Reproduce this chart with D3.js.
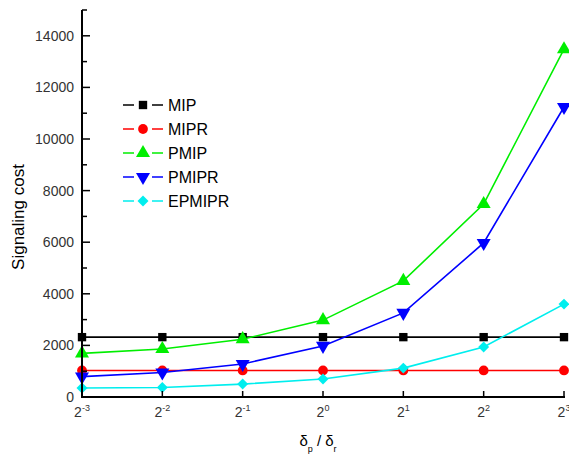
<!DOCTYPE html>
<html><head><meta charset="utf-8">
<script src="https://cdn.jsdelivr.net/npm/d3@7"></script>
<style>body{margin:0;background:#fff}svg{display:block}</style>
</head><body>
<script>
const exps = [-3, -2, -1, 0, 1, 2, 3];
const seriesNames = ["MIP", "MIPR", "PMIP", "PMIPR", "EPMIPR"];
const MIP    = [2320, 2320, 2320, 2320, 2320, 2320, 2320];
const MIPR   = [1030, 1030, 1030, 1030, 1030, 1030, 1030];
const PMIP   = [1690, 1860, 2240, 2980, 4500, 7480, 13480];
const PMIPR  = [790, 950, 1280, 1980, 3260, 5970, 11240];
const EPMIPR = [350, 370, 500, 700, 1120, 1940, 3600];
const yTicks = [0, 2000, 4000, 6000, 8000, 10000, 12000, 14000];
const colors = ["#000000", "#ff0000", "#00ee00", "#0000ff", "#00eeee"];
const symbols = ["square", "circle", "up", "down", "diamond"];
const allData = [MIP, MIPR, PMIP, PMIPR, EPMIPR];

const W = 569, H = 462;
const svg = d3.select("body").append("svg").attr("width", W).attr("height", H);
const x = d3.scalePoint().domain(exps).range([82, 564]);
const y = d3.scaleLinear().domain([0, 15000]).range([397, 10]);

const font = "Arial, 'Liberation Sans', sans-serif";

function drawMarker(g, i, cx, cy) {
  const s = symbols[i];
  let p;
  if (s === "square") p = g.append("path").attr("d", d3.symbol(d3.symbolSquare, 70)()).attr("transform", `translate(${cx},${cy})`);
  else if (s === "circle") p = g.append("path").attr("d", d3.symbol(d3.symbolCircle, 75)()).attr("transform", `translate(${cx},${cy})`);
  else if (s === "up") p = g.append("path").attr("d", d3.symbol(d3.symbolTriangle, 85)()).attr("transform", `translate(${cx},${cy})`);
  else if (s === "down") p = g.append("path").attr("d", d3.symbol(d3.symbolTriangle, 85)()).attr("transform", `translate(${cx},${cy}) rotate(180)`);
  else p = g.append("path").attr("d", d3.symbol(d3.symbolSquare, 60)()).attr("transform", `translate(${cx},${cy}) rotate(45)`);
  p.attr("fill", colors[i]);
}
const line = d3.line().x((d, j) => x(exps[j])).y(d => y(d));
allData.forEach((arr, i) => {
  svg.append("path").attr("d", line(arr)).attr("fill", "none").attr("stroke", colors[i]).attr("stroke-width", 1.6);
});
allData.forEach((arr, i) => {
  const g = svg.append("g");
  arr.forEach((v, j) => drawMarker(g, i, x(exps[j]), y(v)));
});

// axes
const ax = svg.append("g").attr("stroke", "#000");
ax.append("line").attr("x1", 82).attr("x2", 82).attr("y1", 10).attr("y2", 398).attr("stroke-width", 2);
ax.append("line").attr("x1", 81).attr("x2", 565).attr("y1", 397).attr("y2", 397).attr("stroke-width", 2);
d3.range(1000, 15001, 1000).forEach(v => {
  const major = v % 2000 === 0;
  ax.append("line").attr("x1", 82).attr("x2", 82 + (major ? 8 : 5)).attr("y1", y(v)).attr("y2", y(v)).attr("stroke-width", 1.5);
});
exps.forEach(e => {
  ax.append("line").attr("x1", x(e)).attr("x2", x(e)).attr("y1", 397).attr("y2", 391).attr("stroke-width", 1.5);
});
svg.append("g").selectAll("text").data(yTicks).join("text")
  .attr("x", 74).attr("y", d => y(d) + 5).attr("text-anchor", "end")
  .attr("font-family", font).attr("font-size", 14).attr("fill", "#333").text(d => d);
const xl = svg.append("g").selectAll("text").data(exps).join("text")
  .attr("x", d => x(d)).attr("y", 417).attr("text-anchor", "middle")
  .attr("font-family", font).attr("font-size", 14).attr("fill", "#333");
xl.append("tspan").text("2");
xl.append("tspan").attr("dy", -6).attr("font-size", 9).text(d => d);

// axis titles
svg.append("text").attr("transform", "translate(24,217) rotate(-90)").attr("text-anchor", "middle")
  .attr("font-family", font).attr("font-size", 17).attr("fill", "#000").text("Signaling cost");
const xt = svg.append("text").attr("x", 318).attr("y", 446).attr("text-anchor", "middle")
  .attr("font-family", font).attr("font-size", 15).attr("fill", "#000");
xt.append("tspan").text("δ");
xt.append("tspan").attr("dy", 6).attr("font-size", 9).text("p");
xt.append("tspan").attr("dy", -6).text(" / δ");
xt.append("tspan").attr("dy", 6).attr("font-size", 9).text("r");

// legend
const ly = [105, 129, 153, 177, 201];
seriesNames.forEach((n, i) => {
  const g = svg.append("g");
  g.append("line").attr("x1", 123).attr("x2", 163).attr("y1", ly[i]).attr("y2", ly[i]).attr("stroke", colors[i]).attr("stroke-width", 1.6);
  g.append("rect").attr("x", 134).attr("y", ly[i] - 6).attr("width", 18).attr("height", 12).attr("fill", "#fff");
  drawMarker(g, i, 143, ly[i]);
  g.append("text").attr("x", 168).attr("y", ly[i] + 6).attr("font-family", font).attr("font-size", 16).attr("fill", "#000").text(n);
});
</script>
</body></html>
